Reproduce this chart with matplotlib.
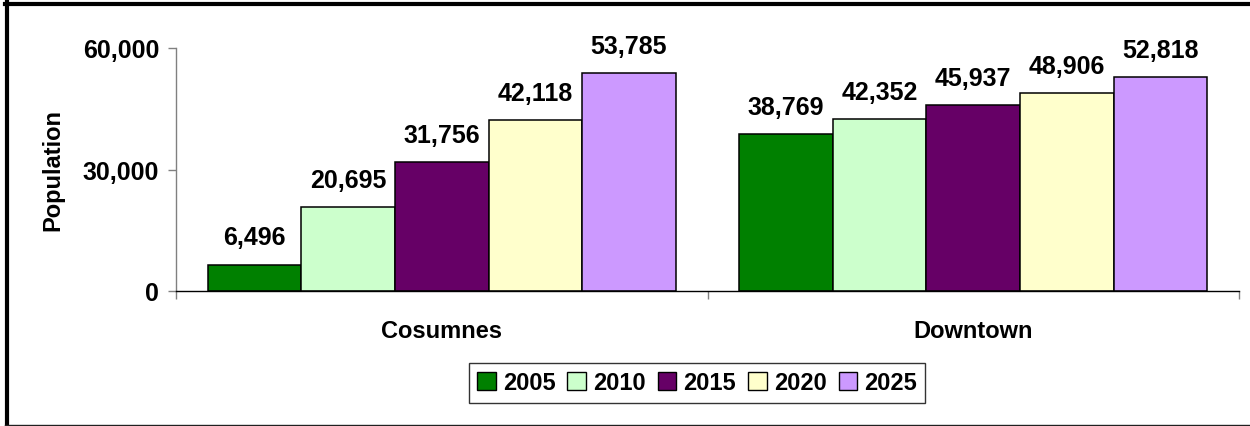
import matplotlib
matplotlib.use("Agg")
import matplotlib.pyplot as plt
from matplotlib.lines import Line2D
from matplotlib.patches import Patch
import numpy as np

categories = ["Cosumnes", "Downtown"]
years = ["2005", "2010", "2015", "2020", "2025"]
values = {
    "2005": [6496, 38769],
    "2010": [20695, 42352],
    "2015": [31756, 45937],
    "2020": [42118, 48906],
    "2025": [53785, 52818],
}
colors = ["#008000", "#CCFFCC", "#660066", "#FFFFCC", "#CC99FF"]
yticks = [0, 30000, 60000]
ylabel = "Population"

plt.rcParams['font.family'] = ['Liberation Sans', 'DejaVu Sans']
plt.rcParams['font.weight'] = 'bold'
FS = 17
FSN = 18

fig = plt.figure(figsize=(12.5, 4.27), dpi=100)
ax = fig.add_axes([176/1250, 1-292/427, (1239-176)/1250, (292-49)/427])

x = np.arange(len(categories))
bw = 0.176
n = len(years)
for i, (yr, col) in enumerate(zip(years, colors)):
    pos = x + (i - (n-1)/2) * bw
    ax.bar(pos, values[yr], width=bw, color=col, edgecolor="black", linewidth=1.1, label=yr)
    for xp, v in zip(pos, values[yr]):
        ax.annotate(f"{v:,}", (xp, v), xytext=(0, 11), textcoords="offset points",
                    ha="center", va="bottom", fontsize=FSN, fontweight="bold")

ax.set_xlim(-0.5, len(categories) - 0.5)
ax.set_ylim(0, 60000)
ax.set_yticks(yticks)
ax.set_yticklabels([f"{t:,}" for t in yticks], fontsize=FSN, fontweight="bold")
ax.set_xticks(x)
ax.set_xticklabels(categories, fontsize=FS, fontweight="bold")
ax.tick_params(axis="x", which="major", length=0, pad=20)
ax.set_xticks(np.arange(-0.5, len(categories)), minor=True)
ax.tick_params(axis="x", which="minor", length=6, direction="out", color="#808080", width=1)
ax.tick_params(axis="y", length=6, direction="out", color="#808080", width=1, pad=6)
ax.set_ylabel(ylabel, fontsize=FS, fontweight="bold")
ax.yaxis.set_label_coords((64 - 176) / 1063, 0.5)

for s in ["top", "right"]:
    ax.spines[s].set_visible(False)
ax.spines["left"].set_color("#808080")
ax.spines["bottom"].set_color("black")
ax.spines["left"].set_linewidth(1)
ax.spines["bottom"].set_linewidth(1)

handles = [Patch(facecolor=c, edgecolor="black", linewidth=1, label=y) for c, y in zip(colors, years)]
leg = fig.legend(handles=handles, loc="center", bbox_to_anchor=(697/1250, 1-384/427), ncol=5,
                 frameon=True, fancybox=False, edgecolor="black",
                 handlelength=0.8, handleheight=0.8, handletextpad=0.3, columnspacing=0.5,
                 borderpad=0.35, prop={"weight": "bold", "size": 17})
leg.get_frame().set_linewidth(1)

# outer frame
fig.add_artist(Line2D([5/1250, 1], [1-5/427, 1-5/427], color="black", linewidth=3, transform=fig.transFigure))
fig.add_artist(Line2D([7/1250, 7/1250], [1-3/427, 1-426/427], color="black", linewidth=3, transform=fig.transFigure))
fig.add_artist(Line2D([5/1250, 1], [1-425.5/427, 1-425.5/427], color="#202020", linewidth=1, transform=fig.transFigure))

fig.savefig("out.png", dpi=100)
